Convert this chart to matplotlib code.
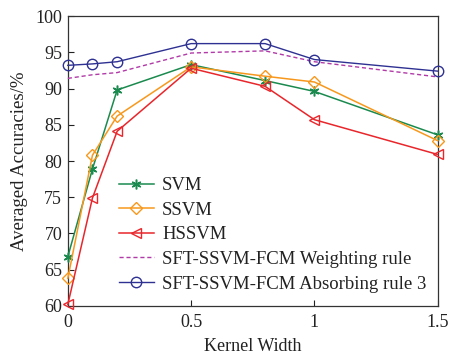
import matplotlib
matplotlib.use("Agg")
import matplotlib.pyplot as plt

plt.rcParams['font.family'] = ['Liberation Serif', 'DejaVu Serif']
plt.rcParams['mathtext.fontset'] = 'stix'

kernel_width = [0, 0.1, 0.2, 0.5, 0.8, 1.0, 1.5]
svm = [66.8, 78.9, 89.8, 93.3, 91.1, 89.6, 83.6]
ssvm = [63.8, 80.8, 86.2, 93.0, 91.7, 90.9, 82.8]
hssvm = [60.2, 74.9, 84.1, 92.8, 90.3, 85.7, 80.9]
weighting = [91.4, 91.9, 92.2, 94.9, 95.2, 93.7, 91.6]
absorbing = [93.2, 93.4, 93.7, 96.2, 96.2, 94.0, 92.4]

labels = ["SVM", "SSVM", "HSSVM", "SFT-SSVM-FCM Weighting rule",
          "SFT-SSVM-FCM Absorbing rule 3"]
xticks = [0, 0.5, 1, 1.5]
xticklabels = ["0", "0.5", "1", "1.5"]
yticks = [60, 65, 70, 75, 80, 85, 90, 95, 100]

fig = plt.figure(figsize=(4.49, 3.57), dpi=100)
ax = fig.add_axes([0.151, 0.143, 0.824, 0.812])

green = "#1a8a4e"
orange = "#f7981d"
red = "#e8262b"
magenta = "#b23aa8"
blue = "#2e3192"

ax.plot(kernel_width, svm, color=green, lw=1.1, marker=(6, 2, 0), ms=7,
        mew=1.1, label=labels[0], clip_on=False, zorder=3)
ax.plot(kernel_width, ssvm, color=orange, lw=1.1, marker='D', ms=6,
        mfc='none', mew=1.0, label=labels[1], clip_on=False, zorder=3)
ax.plot(kernel_width, hssvm, color=red, lw=1.1, marker='<', ms=7.5,
        mfc='none', mew=1.0, label=labels[2], clip_on=False, zorder=3)
ax.plot(kernel_width, weighting, color=magenta, lw=1.0, ls=(0, (3, 2)),
        label=labels[3], clip_on=False, zorder=3)
ax.plot(kernel_width, absorbing, color=blue, lw=1.0, marker='o', ms=7.5,
        mfc='none', mew=1.0, label=labels[4], clip_on=False, zorder=3)

ax.set_xlim(0, 1.5)
ax.set_ylim(60, 100)
ax.set_xticks(xticks)
ax.set_xticklabels(xticklabels)
ax.set_yticks(yticks)
ax.tick_params(direction='in', length=4, width=0.8, labelsize=13, colors='#222222', pad=4)
ax.tick_params(axis='x', pad=6)
for s in ax.spines.values():
    s.set_color('#333333')
    s.set_linewidth(0.9)

ax.set_xlabel("Kernel Width", fontsize=13, color='#222222', labelpad=5)
ax.set_ylabel("Averaged Accuracies/%", fontsize=13.5, color='#222222', labelpad=5)

leg = ax.legend(loc='upper left', bbox_to_anchor=(0.138, 0.445), frameon=False,
                fontsize=13.5, handlelength=1.87, handletextpad=0.43,
                labelspacing=0.4, borderpad=0, borderaxespad=0)
for t in leg.get_texts():
    t.set_color('#222222')

fig.savefig("out.png", dpi=100)
